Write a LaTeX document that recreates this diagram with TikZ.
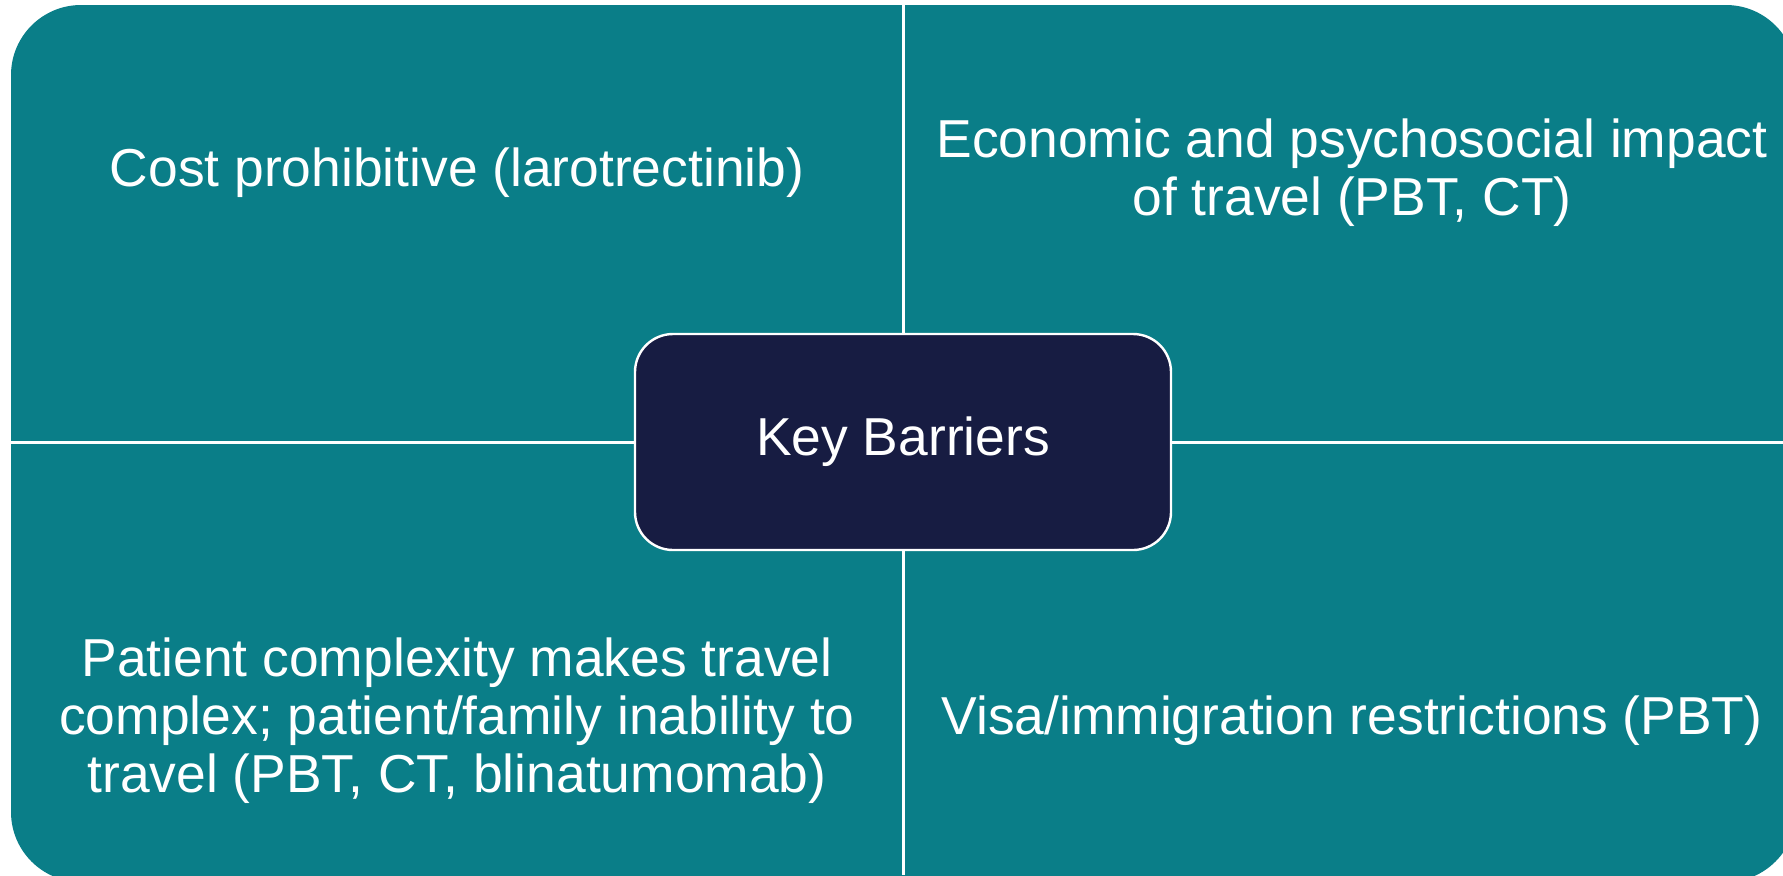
\documentclass[tikz,border=0pt]{standalone}
\usepackage{fontspec}
\setmainfont{Liberation Sans}
\definecolor{petroleo}{RGB}{10,126,136}
\definecolor{marinho}{RGB}{23,28,66}

\begin{document}
\begin{tikzpicture}[
  x = 0.5pt, y = -0.5pt,
  every node/.style = {text=white, align=center,
    font=\fontsize{26.7}{29}\selectfont},
  quadro/.style = {fill=petroleo, rounded corners=35pt},
  divisa/.style = {white, line width=1.5pt},
  centro/.style = {fill=marinho, draw=white, line width=1.2pt,
    rounded corners=19pt, minimum width=268pt, minimum height=108pt}
]
\path[use as bounding box] (0,0) rectangle (1783,875);
\clip (0,0) rectangle (1783,875);

% fundo (sai da folha a direita e embaixo)
\fill[quadro] (11,5) rectangle (1796,882);

% caixa central
\node[centro] (chave) at (903,442) {Key Barriers};

% divisas entre os quadrantes
\coordinate (topo) at (903,5);
\coordinate (base) at (903,875);
\coordinate (esq) at (11,442);
\coordinate (dir) at (1783,442);
\draw[divisa] (chave.north) -- (topo);
\draw[divisa] (chave.south) -- (base);
\draw[divisa] (chave.west) -- (esq);
\draw[divisa] (chave.east) -- (dir);

% textos dos quadrantes
\node (custo) at (457,173) {Cost prohibitive (larotrectinib)};
\node (viagem) at (1352,173) {Economic and psychosocial impact\\of travel (PBT, CT)};
\node (complex) at (457,721) {Patient complexity makes travel\\complex; patient/family inability to\\travel (PBT, CT, blinatumomab)};
\node (visto) at (1352,721) {Visa/immigration restrictions (PBT)};
\end{tikzpicture}
\end{document}
